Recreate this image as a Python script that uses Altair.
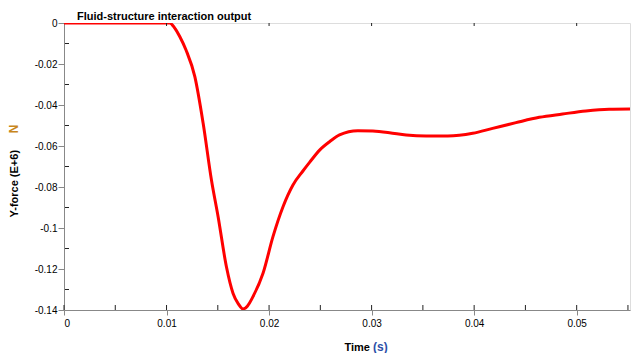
import altair as alt
import pandas as pd

# time (s) and Y-force (E+6 N)
t = [0.0, 0.0050, 0.0100, 0.0103, 0.0108, 0.0113, 0.0119, 0.01276, 0.01357, 0.01438, 0.01503,
     0.01584, 0.01649, 0.01700, 0.01746, 0.01790, 0.01843, 0.01941, 0.02038, 0.02136,
     0.02233, 0.0233, 0.02395, 0.02493, 0.0259, 0.02687, 0.02866, 0.03012, 0.03174,
     0.03337, 0.03532, 0.03743, 0.03986, 0.0418, 0.04408, 0.04635, 0.04862, 0.0509,
     0.05316, 0.0552]
v = [0.0, 0.0, 0.0, 0.0, -0.0025, -0.0067, -0.0132, -0.0262, -0.0489, -0.0766, -0.0945,
     -0.1189, -0.1319, -0.1370, -0.1395, -0.1380, -0.1335, -0.1221, -0.1042, -0.0896,
     -0.0790, -0.0722, -0.0680, -0.0620, -0.0579, -0.0546, -0.0525, -0.0527, -0.0535,
     -0.0546, -0.0551, -0.0551, -0.0538, -0.0514, -0.0486, -0.0460, -0.0444, -0.0429,
     -0.0421, -0.0420]

x_major = [0.0, 0.01, 0.02, 0.03, 0.04, 0.05]
x_minor = [0.005, 0.015, 0.025, 0.035, 0.045, 0.055]
y_major = [0.0, -0.02, -0.04, -0.06, -0.08, -0.10, -0.12, -0.14]
y_minor = [-0.01, -0.03, -0.05, -0.07, -0.09, -0.11, -0.13]

title_text = "Fluid-structure interaction output"
x_title = "Time"
x_unit = "(s)"
y_title = "Y-force (E+6)"
y_unit = "N"

W, H = 566, 287
FONT = "Liberation Sans Narrow, Arial Narrow, Liberation Sans, Arial"

df = pd.DataFrame({"t": t, "v": v})
xs = alt.Scale(domain=[0, 0.0552], nice=False, zero=False)
ys = alt.Scale(domain=[-0.14, 0], nice=False, zero=False)
lab = "replace(format(datum.value, '.2~f'), '\u2212', '-')"

line = alt.Chart(df).mark_line(color="#ff0000", strokeWidth=3, clip=True,
                               interpolate="monotone").encode(
    x=alt.X("t:Q", scale=xs, axis=alt.Axis(
        values=x_major, labelExpr=lab, title=x_title, titleX=280, titleY=37,
        titleAlign="left", titleBaseline="middle", tickSize=5, labelPadding=3,
        grid=False)),
    y=alt.Y("v:Q", scale=ys, axis=alt.Axis(
        values=y_major, labelExpr=lab, title=y_title, titleX=-50, titleY=194,
        titleAngle=270, titleAlign="left", titleBaseline="middle", tickSize=6,
        labelPadding=1, grid=False)),
)

# inward ticks on the bottom axis (major and minor)
bx = pd.DataFrame({"t": x_major + x_minor})
bottom_in = alt.Chart(bx).mark_rule(color="#222222", strokeWidth=1).encode(
    x=alt.X("t:Q", scale=xs), y=alt.value(H), y2=alt.value(H - 5))
# top ticks pointing down
tx = pd.DataFrame({"t": x_major[1:]})
top_in = alt.Chart(tx).mark_rule(color="#222222", strokeWidth=1).encode(
    x=alt.X("t:Q", scale=xs), y=alt.value(0), y2=alt.value(3))
# minor ticks on the left axis, inward
ly = pd.DataFrame({"v": y_minor})
left_in = alt.Chart(ly).mark_rule(color="#222222", strokeWidth=1).encode(
    y=alt.Y("v:Q", scale=ys), x=alt.value(1), x2=alt.value(5))

u1 = alt.Chart(pd.DataFrame({"u": [y_unit]})).mark_text(
    color="#c8861c", font=FONT, fontSize=12, fontWeight="bold", angle=270,
    align="center", baseline="middle").encode(
    text="u:N", x=alt.value(-50), y=alt.value(106))
u2 = alt.Chart(pd.DataFrame({"u": [x_unit]})).mark_text(
    color="#2d4fa8", font=FONT, fontSize=12, fontWeight="bold",
    align="left", baseline="middle").encode(
    text="u:N", x=alt.value(309), y=alt.value(H + 37))

chart = alt.layer(line, bottom_in, top_in, left_in, u1, u2).properties(
    width=W, height=H,
    title=alt.TitleParams(title_text, anchor="start", frame="group", dx=13, dy=7,
                          offset=3, font=FONT, fontSize=11, fontWeight="bold",
                          color="#000000"),
    padding={"left": 64, "top": 23, "right": 2, "bottom": 43},
    autosize=alt.AutoSizeParams(type="none"),
).configure_view(stroke="#222222", strokeWidth=1).configure_axis(
    domainColor="#222222", tickColor="#222222", labelColor="#000000",
    titleColor="#000000", labelFont=FONT, titleFont=FONT, labelFontSize=11,
    titleFontSize=12, labelFontWeight="bold", titleFontWeight="bold",
).configure(background="#ffffff")

chart.save("out.html", embed_options={"renderer": "svg", "actions": False})
